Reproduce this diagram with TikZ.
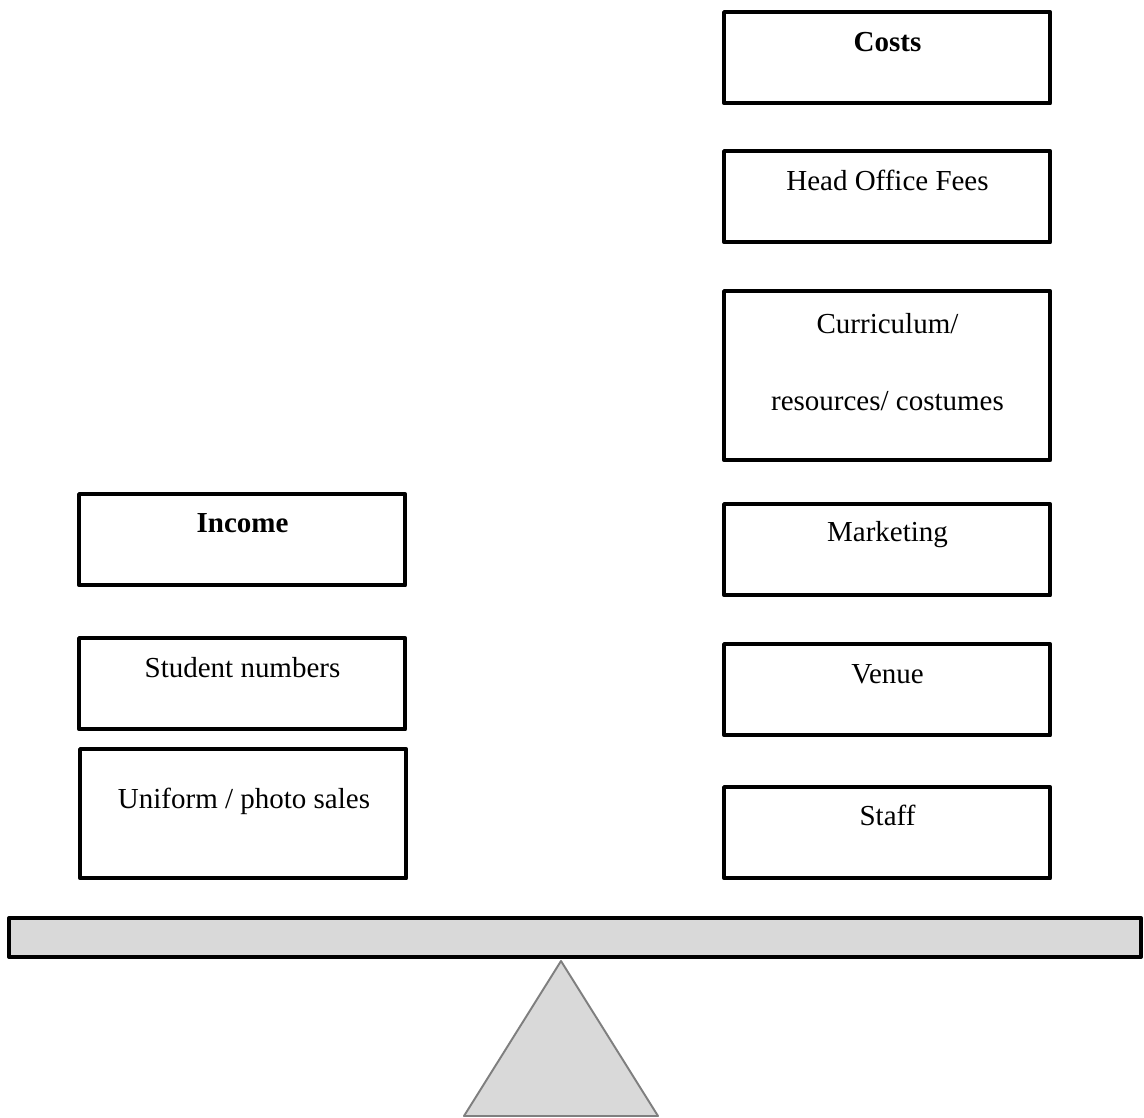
\documentclass[tikz,border=0pt]{standalone}
\usepackage{fontspec}
\setmainfont{Liberation Serif}
\usepackage{tikz}
\definecolor{beamgray}{HTML}{D9D9D9}
\definecolor{pivotline}{HTML}{7F7F7F}
\tikzset{
  box/.style={draw, line width=2.5pt, line join=round, inner sep=0pt,
              anchor=north west, minimum width=6.52cm, minimum height=1.82cm},
  boxtext/.style={anchor=base, inner sep=0pt, align=center,
              font=\fontsize{16.5}{44.2}\selectfont}
}

\begin{document}
\begin{tikzpicture}[x=0.02cm, y=-0.02cm]
    \useasboundingbox (0,0) rectangle (1144,1118);
    % costs column
    \node[box] (costs) at (722,10) {};
    \node[box] (fees) at (722,149) {};
    \node[box, minimum height=3.38cm] (curric) at (722,289) {};
    \node[box] (mkt) at (722,502) {};
    \node[box] (venue) at (722,642) {};
    \node[box] (staff) at (722,785) {};
    \node[boxtext] (costsT) at (887.5,52) {\textbf{Costs}};
    \node[boxtext] (feesT) at (887.5,191) {Head Office Fees};
    \node[boxtext] (curricT) at (887.5,411) {Curriculum/\\resources/ costumes};
    \node[boxtext] (mktT) at (887.5,542) {Marketing};
    \node[boxtext] (venueT) at (887.5,684) {Venue};
    \node[boxtext] (staffT) at (887.5,826) {Staff};
    % income column
    \node[box] (income) at (77,492) {};
    \node[box] (students) at (77,636) {};
    \node[box, minimum height=2.58cm] (sales) at (78,747) {};
    \node[boxtext] (incomeT) at (242.5,533) {\textbf{Income}};
    \node[boxtext] (studentsT) at (242.5,678) {Student numbers};
    \node[boxtext] (salesT) at (244,808) {Uniform / photo sales};
    % see-saw
    \draw[pivotline, fill=beamgray, line width=1.1pt, line join=round]
      (561,961) -- (658,1116) -- (464,1116) -- cycle;
    \draw[fill=beamgray, line width=2.3pt, line join=round]
      (9,918) rectangle (1141,957);
\end{tikzpicture}
\end{document}
